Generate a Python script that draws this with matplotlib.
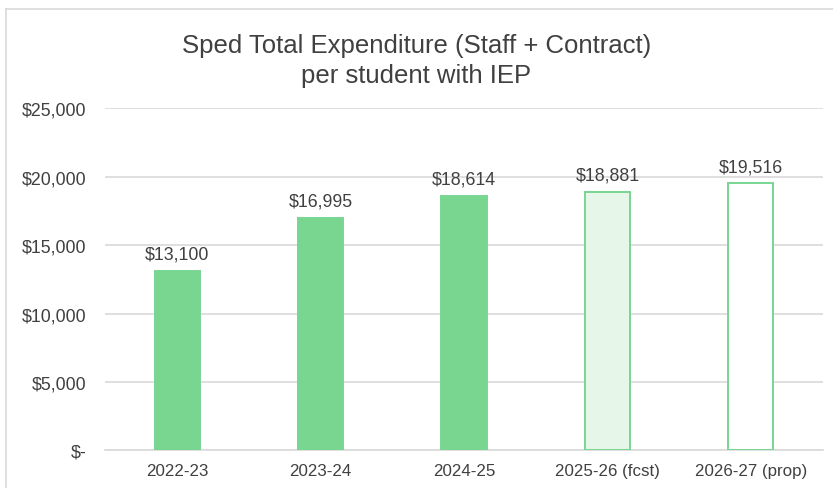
# Gasto total Sped por estudiante con IEP, barras por año
import matplotlib
matplotlib.use("Agg")
import matplotlib.pyplot as plt
from matplotlib.lines import Line2D

# datos
years = ["2022-23", "2023-24", "2024-25", "2025-26 (fcst)", "2026-27 (prop)"]
spend = [13100, 16995, 18614, 18881, 19516]
y_ticks = [0, 5000, 10000, 15000, 20000, 25000]
y_labels = ["$-", "$5,000", "$10,000", "$15,000", "$20,000", "$25,000"]

plt.rcParams["font.family"] = ["Liberation Sans", "DejaVu Sans"]

green = "#78D690"
faint = "#E6F7EA"
text_col = "#404040"

fig = plt.figure(figsize=(8.33, 4.89), dpi=100)
ax = fig.add_axes([0.1265, 0.0767, 0.861, 0.70])

# relleno segun tipo: real, pronostico, propuesto
fills = [green, green, green, faint, "white"]
bars = ax.bar(years, spend, width=0.314, color=fills,
              edgecolor=green, linewidth=1.4, zorder=3)

for b, v in zip(bars, spend):
    ax.text(b.get_x() + b.get_width() / 2, v + 600, f"${v:,}",
            ha="center", va="bottom", fontsize=12.8, color=text_col)

ax.set_ylim(0, 25000)
ax.set_xlim(-0.5, len(years) - 0.5)
ax.set_yticks(y_ticks)
ax.set_yticklabels(y_labels)
ax.grid(axis="y", color="#D9D9D9", linewidth=1.2, zorder=0)
for s in ["top", "right", "left"]:
    ax.spines[s].set_visible(False)
ax.spines["bottom"].set_color("#D9D9D9")
ax.spines["bottom"].set_linewidth(1.2)
ax.tick_params(axis="y", length=0, labelsize=12.8, colors=text_col, pad=13.5)
ax.tick_params(axis="x", length=0, labelsize=12.2, colors=text_col, pad=9)

fig.text(0.5, 0.905, "Sped Total Expenditure (Staff + Contract)",
         ha="center", va="center", fontsize=18.5, color=text_col)
fig.text(0.5, 0.845, "per student with IEP",
         ha="center", va="center", fontsize=18.5, color=text_col)

# borde del area del grafico (arriba e izquierda)
fig.add_artist(Line2D([0.007, 1.0], [0.979, 0.979], transform=fig.transFigure,
                      color="#D9D9D9", linewidth=1.2))
fig.add_artist(Line2D([0.007, 0.007], [0.0, 0.979], transform=fig.transFigure,
                      color="#D9D9D9", linewidth=1.2))

fig.savefig("out.png", dpi=100)
